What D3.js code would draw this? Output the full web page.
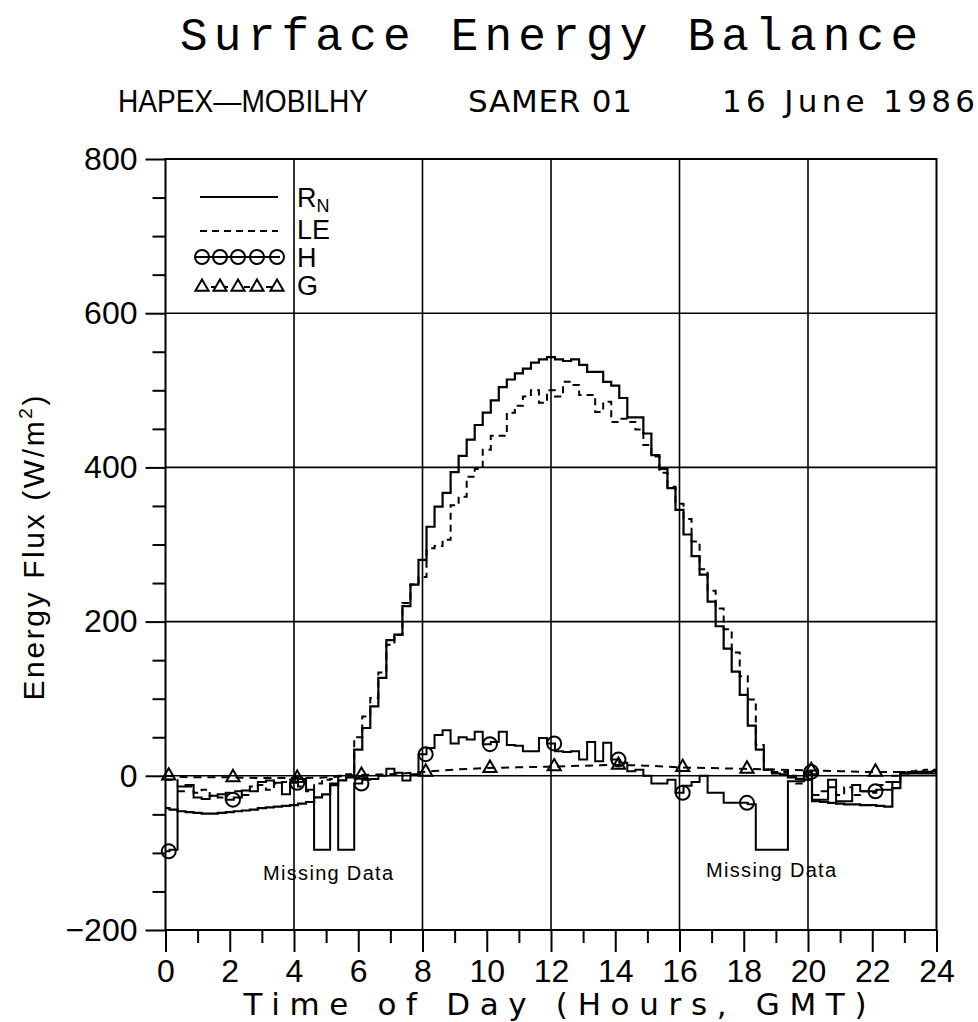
<!DOCTYPE html>
<html><head><meta charset="utf-8">
<script src="https://cdn.jsdelivr.net/npm/d3@7"></script>
<style>body{margin:0;background:#fff} svg{display:block}</style>
</head><body>
<svg id="chart" width="978" height="1022"></svg>
<script>
// ---- data (15-minute values, hour = index/4) ----
const hours = d3.range(97).map(i => i * 0.25);
const rnValues = [
  -42,-44,-46,-47, -48,-49,-49,-48, -47,-46,-45,-44, -42,-41,-40,-39,
  -38,-36,-34,-28, -24,-12,-6,-2, 34,62,90,127, 176,183,220,248,
  280,323,349,367, 394,415,436,455, 471,487,504,514, 522,528,536,540,
  543,540,538,540, 533,524,524,511, 506,490,465,465, 444,416,398,373,
  345,313,285,261, 226,194,165,135, 105,65,34,8, 3,2,-2,-4,
  -5,-33,-34,-35, -36,-37,-37,-38, -38,-39,-40,-16, 3,4,5,5, 6];
const leValues = [
  -5,-5,-20,-14, -22,-18,-26,-28, -22,-20,-25,-14, -12,-18,-10,-8,
  -5,-14,-20,-10, -5,-4,0,2, 50,77,101,134, 170,183,224,248,
  258,295,298,306, 351,362,388,398, 423,441,441,471, 480,492,500,484,
  500,492,511,507, 494,494,472,485, 459,463,459,449, 429,414,393,375,
  353,333,304,268, 240,217,190,160, 129,99,40,8, 5,5,0,-10,
  -5,-25,-20,-15, -25,-15,-25,-20, -22,-12,-8,0, 5,6,7,8, 8];
const hValues = [
  -98,-96,-14,-12, -28,-30,-26,-24, -31,-28,-19,-20, -8,-6,-9,-24,
  -9,-4,-18,-96, -96,-10,-96,-96, -10,-5,-4,0, 9,4,-6,2,
  28,36,53,59, 42,50,47,57, 41,44,57,40, 39,32,32,49,
  42,32,31,32, 21,44,19,43, 21,17,6,8, 0,-10,-10,-5,
  -22,-13,-8,0, -22,-22,-35,-35, -35,-37,-96,-96, -96,-96,-7,-7,
  5,-31,-31,-5, -33,-33,-12,-20, -20,-18,-18,-8, 3,3,3,3, 3];
const gHours = d3.range(25);
const gValues = [0,-2,-2,-3,-3,-2,1,2,5,8,10,11,12,13,14,13,11,10,9,8,7,6,5,5,5];
const markerHours = [0,2,4,6,8,10,12,14,16,18,20,22];
const yTickValues = [-200,0,200,400,600,800];
const yMinorValues = [-150,-100,-50,50,100,150,250,300,350,450,500,550,650,700,750];
const xTickValues = [0,2,4,6,8,10,12,14,16,18,20,22,24];
const xMinorValues = [1,3,5,7,9,11,13,15,17,19,21,23];
const gridHours = [4,8,12,16,20];
const gridValues = [0,200,400,600];
const missingNotes = [{hour:5.06, value:-135, text:"Missing Data"},{hour:18.85, value:-131, text:"Missing Data"}];

// ---- drawing ----
const svg = d3.select('#chart');
const sans = "'Liberation Sans', Arial, sans-serif";
const wide = "'DejaVu Sans', 'Liberation Sans', sans-serif";
const x = d3.scaleLinear().domain([0,24]).range([165.5, 936.5]);
const y = d3.scaleLinear().domain([-200,800]).range([930, 159]);
const markerShift = 0.1;

// titles
svg.append('text').attr('x',549).attr('y',50).attr('text-anchor','middle')
  .attr('font-family',"'Liberation Mono', 'Courier New', monospace").attr('font-size',46)
  .attr('textLength',738).attr('lengthAdjust','spacing').text('Surface Energy Balance');
const subs = [{t:'HAPEX\u2014MOBILHY',x:118,w:250,adj:'spacingAndGlyphs',f:sans},{t:'SAMER 01',x:468,w:164,adj:'spacing',f:wide},{t:'16 June 1986',x:722,w:253,adj:'spacing',f:wide}];
svg.append('g').selectAll('text').data(subs).join('text')
  .attr('x',d=>d.x).attr('y',112).attr('font-family',d=>d.f)
  .attr('font-size',31).attr('textLength',d=>d.w).attr('lengthAdjust',d=>d.adj).text(d=>d.t);

// grid
svg.append('g').selectAll('line').data(gridHours).join('line')
  .attr('x1',d=>x(d)).attr('x2',d=>x(d)).attr('y1',y(800)).attr('y2',y(-200))
  .attr('stroke','#000').attr('stroke-width',1.6);
svg.append('g').selectAll('line').data(gridValues).join('line')
  .attr('x1',x(0)).attr('x2',x(24)).attr('y1',d=>y(d)).attr('y2',d=>y(d))
  .attr('stroke','#000').attr('stroke-width',1.6);
svg.append('rect').attr('x',x(0)).attr('y',y(800)).attr('width',x(24)-x(0)).attr('height',y(-200)-y(800))
  .attr('fill','none').attr('stroke','#000').attr('stroke-width',2);

function styleAxis(g){
  g.select('.domain').remove();
  g.selectAll('line').attr('stroke','#000').attr('stroke-width',2);
  g.selectAll('text').attr('font-family',sans).attr('font-size',32).attr('fill','#000');
}
svg.append('g').attr('transform',`translate(${x(0)},0)`)
  .call(d3.axisLeft(y).tickValues(yMinorValues).tickSize(13).tickFormat('')).call(styleAxis);
svg.append('g').attr('transform',`translate(${x(0)},0)`)
  .call(d3.axisLeft(y).tickValues(yTickValues).tickSize(20).tickPadding(8)).call(styleAxis);
svg.append('g').attr('transform',`translate(0,${y(-200)})`)
  .call(d3.axisBottom(x).tickValues(xMinorValues).tickSize(13).tickFormat('')).call(styleAxis);
svg.append('g').attr('transform',`translate(0,${y(-200)})`)
  .call(d3.axisBottom(x).tickValues(xTickValues).tickSize(22).tickPadding(7)).call(styleAxis);

// axis titles
svg.append('text').attr('x',555).attr('y',1015).attr('text-anchor','middle')
  .attr('font-family',wide).attr('font-size',31).attr('textLength',623).attr('lengthAdjust','spacing')
  .text('Time of Day (Hours, GMT)');
const yt = svg.append('text').attr('transform','translate(44,548) rotate(-90)').attr('text-anchor','middle')
  .attr('font-family',sans).attr('font-size',30).attr('textLength',305).attr('lengthAdjust','spacing');
yt.append('tspan').text('Energy Flux (W/m');
yt.append('tspan').attr('font-size',19).attr('dy',-12).text('2');
yt.append('tspan').attr('dy',12).text(')');

// series
const stepLine = d3.line().x(d=>x(d[0])).y(d=>y(d[1])).curve(d3.curveStep);
const smoothLine = d3.line().x(d=>x(d[0])).y(d=>y(d[1])).curve(d3.curveMonotoneX);
svg.append('path').datum(d3.zip(gHours,gValues)).attr('d',smoothLine)
  .attr('fill','none').attr('stroke','#000').attr('stroke-width',2).attr('stroke-dasharray','8,6');
svg.append('path').datum(d3.zip(hours,leValues)).attr('d',stepLine)
  .attr('fill','none').attr('stroke','#000').attr('stroke-width',2).attr('stroke-dasharray','7,5');
svg.append('path').datum(d3.zip(hours,hValues)).attr('d',stepLine)
  .attr('fill','none').attr('stroke','#000').attr('stroke-width',2);
svg.append('path').datum(d3.zip(hours,rnValues)).attr('d',stepLine)
  .attr('fill','none').attr('stroke','#000').attr('stroke-width',2.2);

// markers
const tri = d3.symbol().type(d3.symbolTriangle).size(75);
svg.append('g').selectAll('circle').data(markerHours).join('circle')
  .attr('cx',d=>x(d+markerShift)).attr('cy',d=>y(hValues[d*4])).attr('r',7)
  .attr('fill','none').attr('stroke','#000').attr('stroke-width',2);
svg.append('g').selectAll('path').data(markerHours).join('path')
  .attr('d',tri).attr('transform',d=>`translate(${x(d+markerShift)},${y(gValues[d])})`)
  .attr('fill','none').attr('stroke','#000').attr('stroke-width',2);

// missing data notes
svg.append('g').selectAll('text').data(missingNotes).join('text')
  .attr('x',d=>x(d.hour)).attr('y',d=>y(d.value)).attr('text-anchor','middle')
  .attr('font-family',sans).attr('font-size',20).attr('textLength',130).attr('lengthAdjust','spacing')
  .text(d=>d.text);

// legend
const lg = svg.append('g');
const lx1 = 200, lx2 = 278, labX = 297;
lg.append('line').attr('x1',lx1).attr('x2',lx2).attr('y1',197).attr('y2',197).attr('stroke','#000').attr('stroke-width',2);
lg.append('line').attr('x1',lx1).attr('x2',lx2).attr('y1',231).attr('y2',231).attr('stroke','#000').attr('stroke-width',2).attr('stroke-dasharray','7,5');
lg.append('line').attr('x1',lx1).attr('x2',lx2).attr('y1',257).attr('y2',257).attr('stroke','#000').attr('stroke-width',2);
lg.append('line').attr('x1',lx1).attr('x2',lx2).attr('y1',287).attr('y2',287).attr('stroke','#000').attr('stroke-width',2).attr('stroke-dasharray','6,5');
const legPts = [202,220,238,257,277];
lg.append('g').selectAll('circle').data(legPts).join('circle').attr('cx',d=>d).attr('cy',257).attr('r',7)
  .attr('fill','#fff').attr('stroke','#000').attr('stroke-width',2);
lg.append('g').selectAll('path').data(legPts).join('path').attr('d',tri).attr('transform',d=>`translate(${d},287)`)
  .attr('fill','#fff').attr('stroke','#000').attr('stroke-width',2);
lg.append('line').attr('x1',lx1-5).attr('x2',lx2+2).attr('y1',257).attr('y2',257).attr('stroke','#000').attr('stroke-width',2);
const rn = lg.append('text').attr('x',labX).attr('y',207).attr('font-family',sans).attr('font-size',27);
rn.append('tspan').text('R');
rn.append('tspan').attr('font-size',18).attr('dy',5).text('N');
lg.append('text').attr('x',labX).attr('y',239).attr('font-family',sans).attr('font-size',27).text('LE');
lg.append('text').attr('x',labX).attr('y',267).attr('font-family',sans).attr('font-size',27).text('H');
lg.append('text').attr('x',labX).attr('y',295).attr('font-family',sans).attr('font-size',27).text('G');
</script>
</body></html>
